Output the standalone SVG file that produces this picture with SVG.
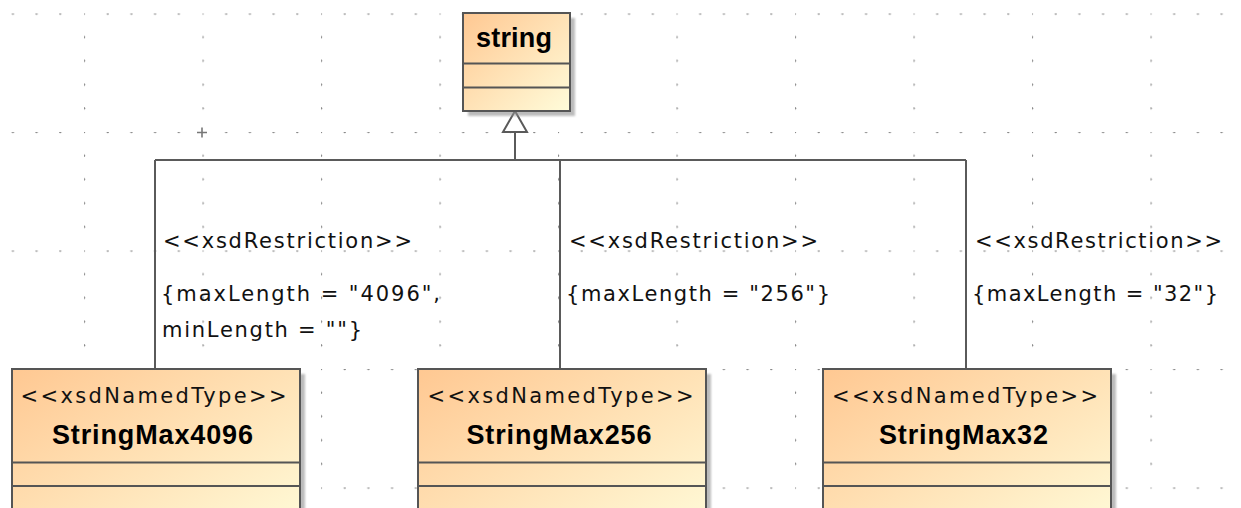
<svg xmlns="http://www.w3.org/2000/svg" width="1241" height="508" viewBox="0 0 1241 508">
  <defs>
    <linearGradient id="classFill" x1="0" y1="0" x2="1" y2="1">
      <stop offset="0" stop-color="#FFC892"/>
      <stop offset="1" stop-color="#FFFCDA"/>
    </linearGradient>
    <filter id="soft" x="-10%" y="-10%" width="130%" height="130%">
      <feGaussianBlur stdDeviation="1"/>
    </filter>
    <!-- canvas grid: dots along every fifth line -->
    <pattern id="grid" patternUnits="userSpaceOnUse" x="84" y="13.5" width="118.5" height="118.5">
      <g fill="#888888">
        <circle cx="0" cy="0" r="1.25"/>
        <circle cx="23.7" cy="0" r="1.25"/>
        <circle cx="47.4" cy="0" r="1.25"/>
        <circle cx="71.1" cy="0" r="1.25"/>
        <circle cx="94.8" cy="0" r="1.25"/>
        <circle cx="0" cy="23.7" r="1.25"/>
        <circle cx="0" cy="47.4" r="1.25"/>
        <circle cx="0" cy="71.1" r="1.25"/>
        <circle cx="0" cy="94.8" r="1.25"/>
      </g>
    </pattern>
  </defs>
  <style>
    .box { fill: url(#classFill); stroke: #555555; stroke-width: 2; }
    .shadow { fill: #8f8f8f; opacity: 0.6; filter: url(#soft); }
    .sep { stroke: #555555; stroke-width: 2; }
    .edge { fill: none; stroke: #5a5a5a; stroke-width: 2; }
    .head { fill: #ffffff; stroke: #5a5a5a; stroke-width: 2; stroke-linejoin: miter; }
    .stereo { font-family: "DejaVu Sans", Verdana, sans-serif; font-size: 21px; fill: #111111; }
    .name { font-family: "Liberation Sans", Arial, sans-serif; font-size: 27px; font-weight: bold; fill: #000000; }
    .lbl { font-family: "DejaVu Sans", Verdana, sans-serif; font-size: 21px; fill: #111111; }
  </style>

  <rect width="1241" height="508" fill="#ffffff"/>
  <rect width="1241" height="508" fill="url(#grid)"/>
  <path d="M197 132.5 H207 M202 127.5 V137.5" stroke="#777777" stroke-width="1.6"/>

  <!-- generalization tree -->
  <g id="connectors">
    <path class="edge" d="M515 132 V160 M155 160 H966 M155 160 V369 M560 160 V369 M966 160 V369"/>
    <polygon class="head" points="515,111 527,132 503,132"/>
    <text class="lbl" x="163" y="248" textLength="249" lengthAdjust="spacing">&lt;&lt;xsdRestriction&gt;&gt;</text>
    <text class="lbl" x="161" y="301" textLength="279" lengthAdjust="spacing">{maxLength = "4096",</text>
    <text class="lbl" x="162" y="337" textLength="200" lengthAdjust="spacing">minLength = ""}</text>
    <text class="lbl" x="569" y="248" textLength="249" lengthAdjust="spacing">&lt;&lt;xsdRestriction&gt;&gt;</text>
    <text class="lbl" x="566" y="301" textLength="264" lengthAdjust="spacing">{maxLength = "256"}</text>
    <text class="lbl" x="975" y="248" textLength="247" lengthAdjust="spacing">&lt;&lt;xsdRestriction&gt;&gt;</text>
    <text class="lbl" x="972" y="301" textLength="246" lengthAdjust="spacing">{maxLength = "32"}</text>
  </g>

  <g id="string">
    <rect class="shadow" x="468" y="18" width="107" height="98"/>
    <rect class="box" x="463" y="13" width="107" height="98"/>
    <line class="sep" x1="463" y1="63.5" x2="570" y2="63.5"/>
    <line class="sep" x1="463" y1="87.5" x2="570" y2="87.5"/>
    <text class="name" x="514" y="47" text-anchor="middle" textLength="76" lengthAdjust="spacing">string</text>
  </g>

  <g id="StringMax4096">
    <rect class="shadow" x="17" y="374" width="288" height="170"/>
    <rect class="box" x="12" y="369" width="288" height="170"/>
    <line class="sep" x1="12" y1="462.5" x2="300" y2="462.5"/>
    <line class="sep" x1="12" y1="486" x2="300" y2="486"/>
    <text class="stereo" x="153.5" y="403" text-anchor="middle" textLength="266" lengthAdjust="spacing">&lt;&lt;xsdNamedType&gt;&gt;</text>
    <text class="name" x="152.5" y="444" text-anchor="middle" textLength="201" lengthAdjust="spacing">StringMax4096</text>
  </g>

  <g id="StringMax256">
    <rect class="shadow" x="423" y="374" width="288" height="170"/>
    <rect class="box" x="418" y="369" width="288" height="170"/>
    <line class="sep" x1="418" y1="462.5" x2="706" y2="462.5"/>
    <line class="sep" x1="418" y1="486" x2="706" y2="486"/>
    <text class="stereo" x="560.5" y="403" text-anchor="middle" textLength="266" lengthAdjust="spacing">&lt;&lt;xsdNamedType&gt;&gt;</text>
    <text class="name" x="559" y="444" text-anchor="middle" textLength="185" lengthAdjust="spacing">StringMax256</text>
  </g>

  <g id="StringMax32">
    <rect class="shadow" x="828" y="374" width="288" height="170"/>
    <rect class="box" x="823" y="369" width="288" height="170"/>
    <line class="sep" x1="823" y1="462.5" x2="1111" y2="462.5"/>
    <line class="sep" x1="823" y1="486" x2="1111" y2="486"/>
    <text class="stereo" x="965" y="403" text-anchor="middle" textLength="266" lengthAdjust="spacing">&lt;&lt;xsdNamedType&gt;&gt;</text>
    <text class="name" x="963.5" y="444" text-anchor="middle" textLength="169" lengthAdjust="spacing">StringMax32</text>
  </g>
</svg>
